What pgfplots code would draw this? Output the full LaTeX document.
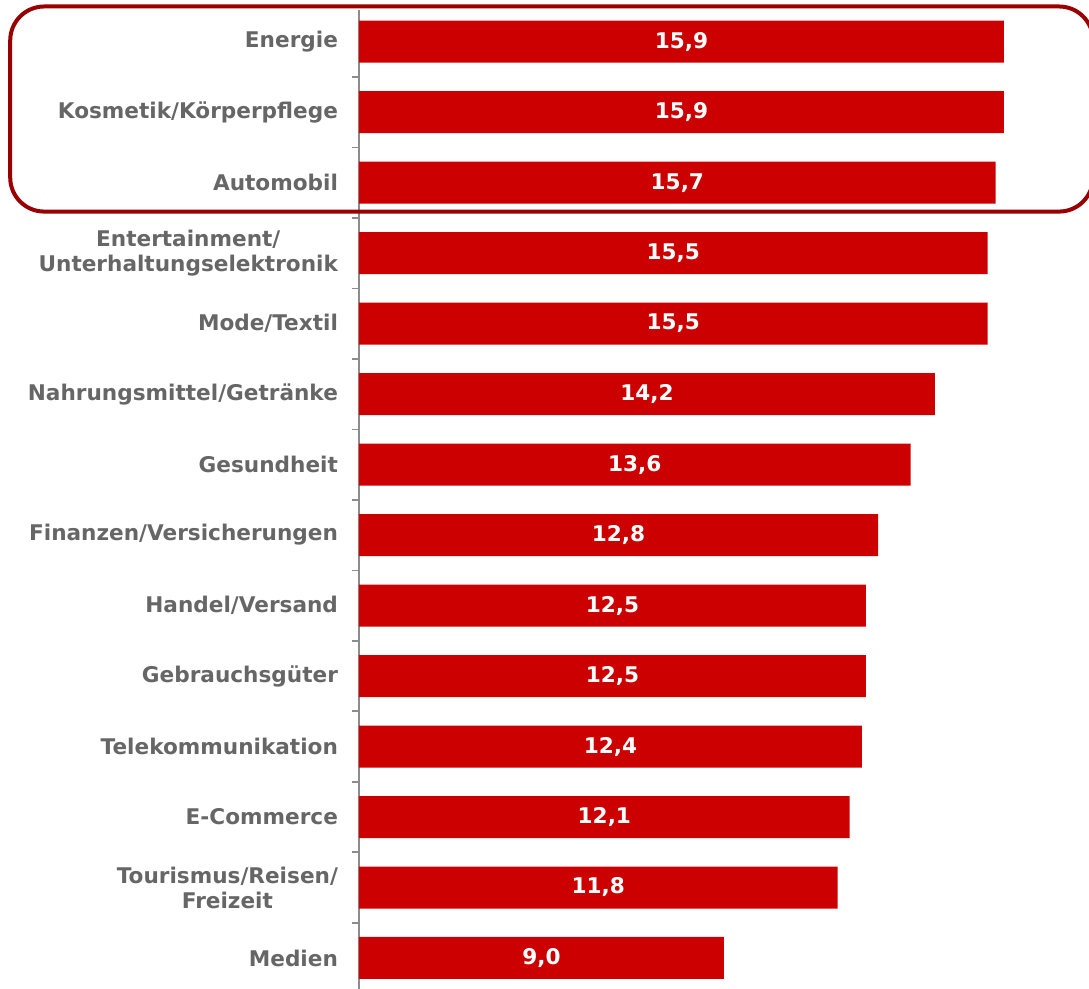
\documentclass[border=0pt]{standalone}
\usepackage{fontspec}
\setmainfont{DejaVu Sans}
\usepackage{pgfplots}
\pgfplotsset{compat=1.18}
\definecolor{barred}{HTML}{CC0000}
\definecolor{boxred}{HTML}{990000}
\definecolor{lblgray}{HTML}{666666}
\definecolor{axgray}{HTML}{8C8C8C}
\newcommand\lblfont{\fontsize{10.8}{12.5}\selectfont\bfseries}
\begin{document}
\begin{tikzpicture}
\begin{axis}[
 name=ax,
 xbar, width=365pt, height=489.5pt, scale only axis,
 xmin=0, xmax=18, ymin=-0.45, ymax=13.44, y dir=reverse,
 enlarge x limits=false, enlarge y limits=false,
 axis x line=none, axis y line*=left,
 y axis line style={draw=axgray, line width=1pt},
 ytick={0,...,13},
 yticklabels={Energie, Kosmetik/Körperpflege, Automobil, {Entertainment/\\Unterhaltungselektronik}, Mode/Textil, Nahrungsmittel/Getränke, Gesundheit, Finanzen/Versicherungen, Handel/Versand, Gebrauchsgüter, Telekommunikation, E-Commerce, {Tourismus/Reisen/\\Freizeit}, Medien},
 minor ytick={0.5,1.5,...,12.5},
 major tick length=0pt, minor tick length=3.5pt,
 tick align=outside, ytick pos=left,
 tick style={draw=axgray, line width=0.8pt},
 yticklabel style={font=\lblfont, text=lblgray, align=center, xshift=-7pt},
 bar width=21pt,
 nodes near coords={\pgfmathprintnumber[fixed,fixed zerofill,precision=1,use comma,assume math mode=true]{\pgfplotspointmeta}},
 visualization depends on={rawx \as \rawx},
 every node near coord/.append style={font=\lblfont, text=white, anchor=center, xshift={-\rawx*10.1389pt}},
 clip=false,
]
\addplot[fill=barred, draw=none] coordinates {
 (15.9,0) (15.9,1) (15.7,2) (15.5,3) (15.5,4) (14.2,5) (13.6,6)
 (12.8,7) (12.5,8) (12.5,9) (12.4,10) (12.1,11) (11.8,12) (9.0,13)};
\draw[boxred, line width=2pt, rounded corners=17pt] (axis cs:-8.6,-0.5) rectangle (axis cs:18.1,2.41);
\end{axis}
\pgfresetboundingbox
\path (ax.south west) ++(-179.5pt,0pt) rectangle ++(544.5pt,494.5pt);
\end{tikzpicture}
\end{document}
